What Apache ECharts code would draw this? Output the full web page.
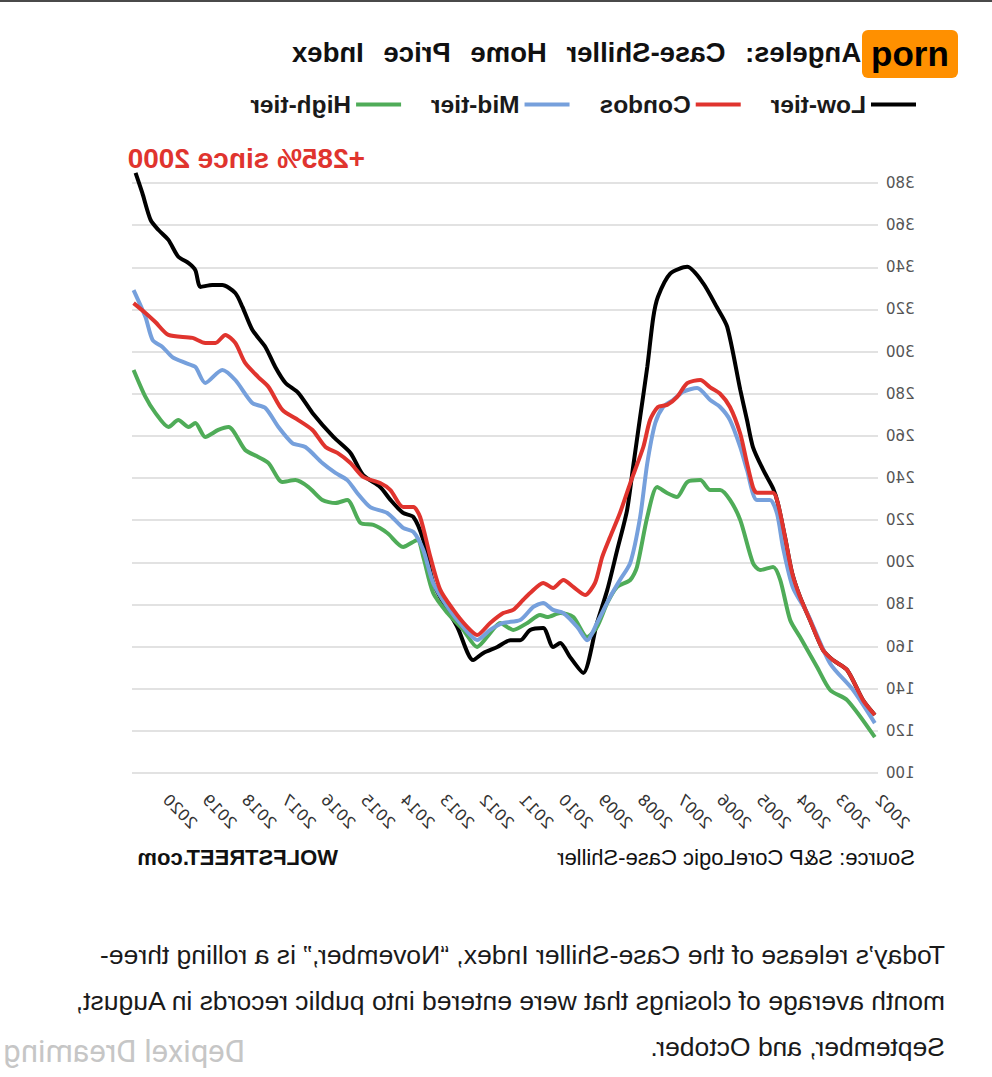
<!DOCTYPE html>
<html>
<head>
<meta charset="utf-8">
<script src="https://cdn.jsdelivr.net/npm/echarts@6/dist/echarts.min.js"></script>
<style>
  html, body { margin: 0; padding: 0; background: #fff; width: 992px; height: 1077px; overflow: hidden; }
  #wrap { position: absolute; left: 0; top: 0; width: 992px; height: 1077px; transform: scaleX(-1); transform-origin: 50% 50%; }
  #topline { position: absolute; left: 0; top: 0; width: 992px; height: 2px; background: #4a4a4a; }
  #chart { position: absolute; left: 0; top: 0; width: 992px; height: 900px; }
  #title { position: absolute; right: 292px; top: 38px; font: bold 27.5px "Liberation Sans", Arial, sans-serif; line-height: 30px; white-space: nowrap; word-spacing: 12px; color: #111; }
  #para { position: absolute; left: 47px; top: 932px; font: 26.5px "Liberation Sans", Arial, sans-serif; line-height: 46px; color: #1a1a1a; white-space: nowrap; }
  #wm { position: absolute; left: 747px; top: 1033px; font: 31px Roboto, sans-serif; color: #c6c6c6; white-space: nowrap; }
  #badge { position: absolute; left: 862px; top: 30px; width: 96px; height: 48px; background: #ff9000; border-radius: 6px; font: bold 35px "Liberation Sans", Arial, sans-serif; color: #000; display: flex; align-items: center; justify-content: center; }
</style>
</head>
<body>
<div id="wrap">
  <div id="topline"></div>
  <div id="chart"></div>
  <div id="title">Los Angeles: Case-Shiller Home Price Index</div>
  <div id="para">Today’s release of the Case-Shiller Index, “November,” is a rolling three-<br>month average of closings that were entered into public records in August,<br>September, and October.</div>
  <div id="wm">Depixel Dreaming</div>
</div>
<div id="badge">porn</div>
<script>
// Series readings: [decimal year, index value]
const lowTier = [
  [2002.08,127.5],[2002.38,134.6],[2002.78,148.9],[2003.14,153.6],[2003.39,158.4],[2003.72,172.6],
  [2003.97,183.5],[2004.17,194.9],[2004.35,212],[2004.53,228],[2004.65,235],[2004.90,243.8],
  [2005.16,254.7],[2005.31,267.5],[2005.48,281.8],[2005.81,311.7],[2006.07,321],[2006.42,332.5],
  [2006.82,340.2],[2007.25,337],[2007.56,326],[2007.68,316],[2007.83,292.7],[2008.01,269],
  [2008.19,245],[2008.34,224.8],[2008.59,205.8],[2008.84,186.9],[2009.10,171.2],[2009.45,147.5],
  [2009.78,155],[2010.03,161.7],[2010.21,159.8],[2010.46,168.8],[2010.79,167.9],[2011.04,163],
  [2011.29,163],[2011.62,159.8],[2011.97,157],[2012.23,153.6],[2012.63,169.3],[2012.98,180.7],
  [2013.24,190.2],[2013.49,210.6],[2013.74,221.5],[2014.00,223.4],[2014.32,229.6],[2014.58,235.7],
  [2015.01,241.4],[2015.33,251.9],[2015.76,259.5],[2016.29,270.9],[2016.65,280.4],[2016.97,285.1],
  [2017.23,292.7],[2017.48,302.2],[2017.81,310.3],[2018.06,321.2],[2018.24,327.8],[2018.57,331.6],
  [2018.82,331.6],[2019.12,330.7],[2019.25,338.7],[2019.42,342],[2019.68,345],[2019.93,353],
  [2020.18,357.7],[2020.38,362.5],[2020.59,375.3],[2020.76,384.8]
];
const condos = [
  [2002.08,127.5],[2002.38,134.6],[2002.78,148.9],[2003.14,153.6],[2003.39,158.4],[2003.72,172.6],
  [2003.97,183.5],[2004.17,194.9],[2004.35,212],[2004.53,228],[2004.65,233],[2005.06,233],
  [2005.16,235.7],[2005.31,247],[2005.48,261],[2005.74,273.7],[2005.99,280],[2006.24,283],
  [2006.49,286.5],[2006.82,285],[2007.08,278.4],[2007.33,274.7],[2007.56,273.7],[2007.76,267.5],
  [2007.93,254.7],[2008.26,237.6],[2008.52,223.4],[2008.77,212],[2008.97,202.5],[2009.15,190.2],
  [2009.40,184.5],[2009.70,188.3],[2009.95,191.6],[2010.21,187.8],[2010.46,190.2],[2010.79,185.4],
  [2010.97,182.1],[2011.22,177.4],[2011.47,175.9],[2011.80,171.2],[2012.13,165.5],[2012.38,169.3],
  [2012.73,177.4],[2013.06,186.9],[2013.31,202.5],[2013.57,221.5],[2013.74,226.2],[2014.00,226.2],
  [2014.32,234.3],[2014.58,237.6],[2015.01,240.5],[2015.33,247.1],[2015.66,251.9],[2015.96,254.7],
  [2016.29,262.8],[2016.65,267.5],[2017.05,272.3],[2017.40,283.2],[2017.66,287.9],[2017.99,294.6],
  [2018.24,304.1],[2018.49,307.9],[2018.74,304.1],[2019.00,304.1],[2019.32,306.5],[2019.93,307.9],
  [2020.26,314],[2020.51,318.3],[2020.81,323]
];
const midTier = [
  [2002.08,123.7],[2002.63,139.4],[2003.21,152],[2003.79,176],[2004.15,188],[2004.40,207],
  [2004.55,223],[2004.73,229.6],[2005.06,229.6],[2005.31,243.8],[2005.48,254.7],[2005.74,267.5],
  [2005.99,273.7],[2006.24,277],[2006.57,282.7],[2006.92,281],[2007.18,277],[2007.43,273.7],
  [2007.63,266],[2007.83,247],[2008.01,221.5],[2008.26,199.7],[2008.52,191.6],[2008.77,183.5],
  [2009.10,171.2],[2009.35,163],[2009.60,169.3],[2009.95,175.9],[2010.21,177.4],[2010.46,180.7],
  [2010.71,178.8],[2011.04,172.6],[2011.47,171.2],[2011.80,167.9],[2012.13,163.1],[2012.48,169.3],
  [2012.88,178.8],[2013.24,190.2],[2013.49,205.8],[2013.74,214.4],[2014.00,216.3],[2014.40,223.4],
  [2014.83,226.2],[2015.16,232.9],[2015.41,239],[2015.71,242.4],[2016.04,247.1],[2016.47,254.7],
  [2016.80,256.6],[2017.15,264.2],[2017.48,273.2],[2017.81,275.6],[2018.24,286.5],[2018.57,291.3],
  [2019.00,285.1],[2019.25,292.7],[2019.50,294.6],[2019.83,297.4],[2020.08,302.2],[2020.33,305.5],
  [2020.51,316.4],[2020.81,329.2]
];
const highTier = [
  [2002.08,117],[2002.78,134.6],[2003.21,139.4],[2003.54,150.3],[2003.97,164.5],[2004.22,172.6],
  [2004.47,191.6],[2004.65,197.8],[2004.98,196.3],[2005.16,199.7],[2005.48,220],[2005.74,229.6],
  [2005.99,234.3],[2006.24,234.3],[2006.49,239],[2006.82,238.1],[2007.08,231],[2007.33,232.9],
  [2007.58,235.7],[2007.83,221.5],[2008.09,197.8],[2008.26,191.6],[2008.59,188.3],[2008.84,180.7],
  [2009.10,169.3],[2009.35,164.5],[2009.70,174],[2010.03,175.9],[2010.36,174],[2010.54,175],
  [2010.86,171.2],[2011.22,167.9],[2011.55,171.2],[2011.80,166.4],[2012.13,159.8],[2012.48,167.9],
  [2012.88,175.9],[2013.24,185.4],[2013.49,202.5],[2013.64,210.6],[2014.00,207.3],[2014.40,213.9],
  [2014.75,217.7],[2015.08,218.7],[2015.41,229.6],[2015.71,228.1],[2016.04,229.6],[2016.39,235.7],
  [2016.72,239],[2017.05,238.1],[2017.40,247.1],[2017.66,250],[2017.99,253.3],[2018.41,264.2],
  [2018.67,262.8],[2019.00,259.5],[2019.25,266.1],[2019.42,264.2],[2019.68,267.5],[2019.93,264.2],
  [2020.26,270.9],[2020.51,278.5],[2020.81,291.3]
];
const seriesNames = ['Low-tier', 'Condos', 'Mid-tier', 'High-tier'];
const seriesColors = ['#000000', '#e0342e', '#76a0dc', '#4fac58'];
const annotationText = '+285% since 2000';
const sourceText = 'Source: S&P CoreLogic Case-Shiller';
const brandText = 'WOLFSTREET.com';

const chart = echarts.init(document.getElementById('chart'), null, { renderer: 'svg' });
const dataBy = { 'Low-tier': lowTier, 'Condos': condos, 'Mid-tier': midTier, 'High-tier': highTier };
const drawOrder = ['Low-tier', 'High-tier', 'Mid-tier', 'Condos'];

chart.setOption({
  animation: false,
  backgroundColor: 'transparent',
  color: seriesColors,
  legend: {
    data: seriesNames,
    left: 71, top: 87,
    icon: 'rect', itemWidth: 45, itemHeight: 4, itemGap: 30,
    textStyle: { fontSize: 24.5, fontWeight: 'bold', color: '#1a1a1a', fontFamily: 'Liberation Sans' }
  },
  grid: { left: 114, right: 132, top: 183, bottom: 127 },
  xAxis: {
    type: 'value', min: 2002, max: 2020.85, interval: 1,
    axisLine: { show: false }, axisTick: { show: false }, splitLine: { show: false },
    axisLabel: {
      rotate: 45, margin: 24, fontSize: 16, color: '#333', fontFamily: 'DejaVu Sans',
      showMaxLabel: false,
      formatter: v => (Math.abs(v - Math.round(v)) < 1e-6 ? String(Math.round(v)) : '')
    }
  },
  yAxis: {
    type: 'value', min: 100, max: 380, interval: 20,
    axisLine: { show: false }, axisTick: { show: false },
    axisLabel: { margin: 8, fontSize: 15, color: '#555', fontFamily: 'DejaVu Sans' },
    splitLine: { lineStyle: { color: '#d9d9d9', width: 1.5 } }
  },
  graphic: [
    { type: 'text', left: 627, top: 144, style: { text: annotationText, font: 'bold 28px "Liberation Sans"', fill: '#e0342e' } },
    { type: 'text', left: 77, top: 846, style: { text: sourceText, font: '22px "Liberation Sans"', fill: '#111' } },
    { type: 'text', left: 654, top: 846, style: { text: brandText, font: 'bold 22px "Liberation Sans"', fill: '#111' } }
  ],
  series: drawOrder.map(name => ({
    name, type: 'line', data: dataBy[name], showSymbol: false, smooth: 0.25, clip: false,
    color: seriesColors[seriesNames.indexOf(name)],
    lineStyle: { width: 4, color: seriesColors[seriesNames.indexOf(name)] }
  }))
});
</script>
</body>
</html>
